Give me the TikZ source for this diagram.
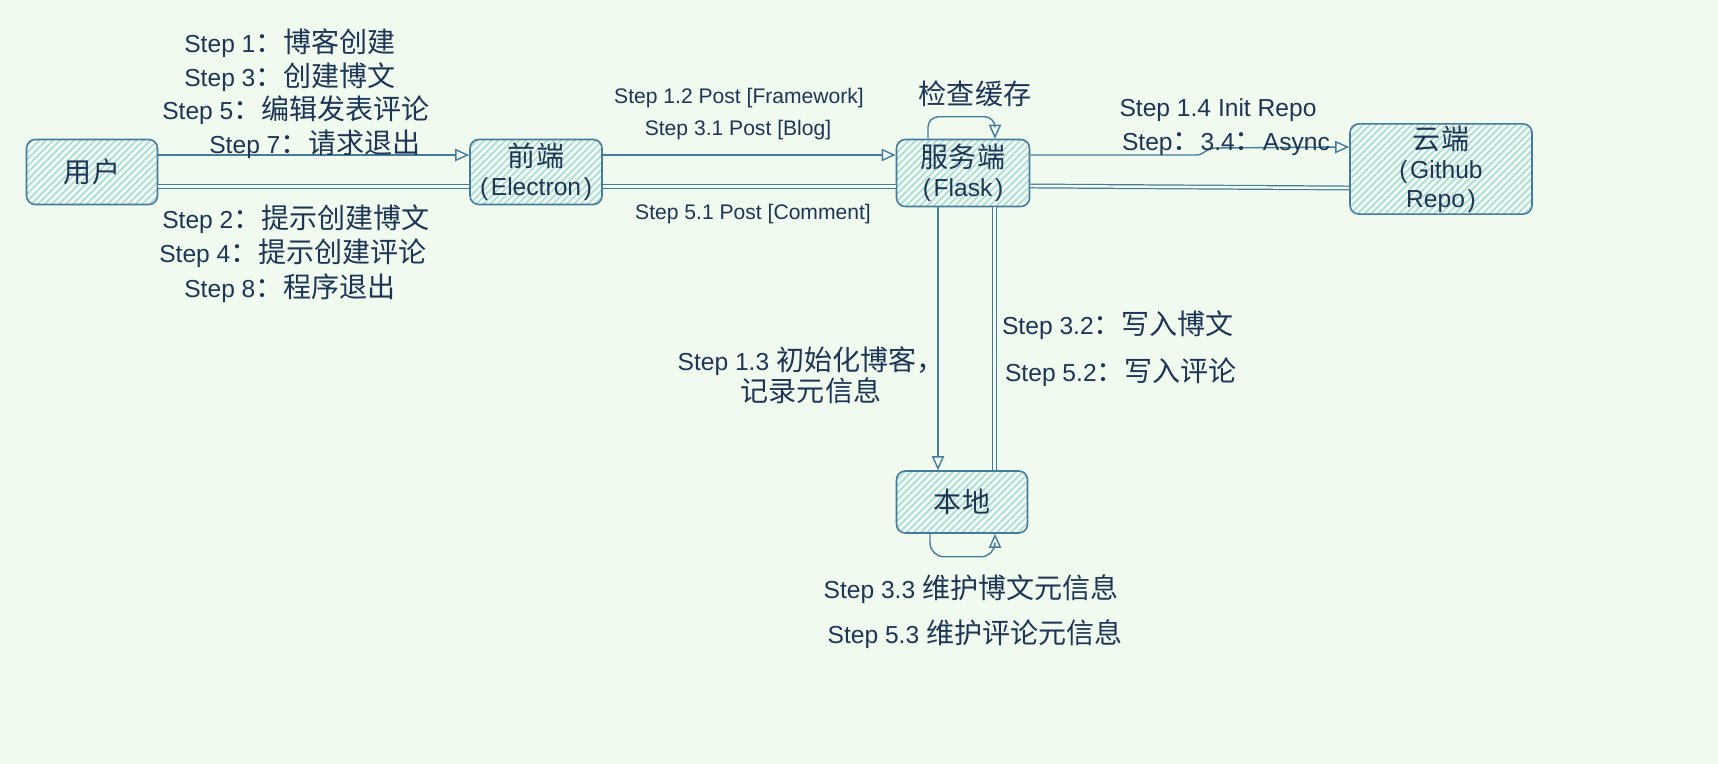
\documentclass[tikz,border=0pt]{standalone}
\usepackage{fontspec}
\setmainfont{Liberation Sans}
\newfontfamily\cjk[Scale=1.14]{Noto Sans CJK SC}
\newcommand{\zh}[1]{{\cjk #1}}
\usetikzlibrary{arrows.meta,positioning,patterns.meta}
\definecolor{bg}{HTML}{F1FAEE}
\definecolor{edge}{HTML}{457B9D}
\definecolor{hatch}{HTML}{A8DADC}
\definecolor{ink}{HTML}{1D3557}
\tikzset{font=\fontsize{14}{16.5}\selectfont}
\tikzset{every node/.append style={text=ink}}
\tikzset{box/.style={draw=edge, line width=0.9pt, rounded corners=5pt,
    pattern={Lines[angle=45,distance=2.8pt,line width=0.9pt]}, pattern color=hatch,
    align=center, inner sep=1pt}}
\tikzset{flow/.style={draw=edge, line width=0.8pt, -{Triangle[open,length=8pt,width=7pt]}}}
\tikzset{twin/.style={draw=edge, line width=0.7pt, double=bg, double distance=1.4pt}}
\tikzset{small/.style={font=\fontsize{12}{14}\selectfont}}

\begin{document}
\begin{tikzpicture}
\fill[bg] (0,0) rectangle (34.36,-15.28);
\useasboundingbox (0,0) rectangle (34.36,-15.28);

\node[box, minimum width=2.62cm, minimum height=1.3cm] (user) at (1.84,-3.44) {\zh{用户}};
\node[box, minimum width=2.64cm, minimum height=1.3cm] (front) at (10.72,-3.44) {\zh{前端}\\(\kern1.5pt Electron\kern1.5pt)};
\node[box, minimum width=2.66cm, minimum height=1.34cm] (server) at (19.26,-3.46) {\zh{服务端}\\(\kern1.5pt Flask\kern1.5pt)};
\node[box, minimum width=3.64cm, minimum height=1.64cm] (cloud) at (28.82,-3.38) {\zh{云端}\\(\kern1.5pt Github\\Repo\kern1.5pt)};
\node[box, minimum width=2.62cm, minimum height=1.24cm] (local) at (19.24,-10.04) {\zh{本地}};

\draw[flow] ([yshift=0.34cm]user.east) -- ([yshift=0.34cm]user.east -| front.west);
\draw[twin] ([yshift=-0.29cm]user.east) -- ([yshift=-0.29cm]user.east -| front.west);
\draw[flow] ([yshift=0.34cm]front.east) -- ([yshift=0.34cm]front.east -| server.west);
\draw[twin] ([yshift=-0.29cm]front.east) -- ([yshift=-0.29cm]front.east -| server.west);
\draw[flow] ([yshift=0.36cm]server.east) -- ++(3.3,0)
  .. controls +(0.2,0) and +(-0.2,0) .. ++(0.4,0.14) -- ([yshift=0.44cm]cloud.west);
\draw[twin] ([yshift=-0.26cm]server.east) -- ([yshift=-0.38cm]cloud.west);
\draw[flow, rounded corners=6pt] ([xshift=-0.7cm]server.north) -- ++(0,0.44) -| ([xshift=0.64cm]server.north);
\draw[flow] ([xshift=-0.5cm]server.south) -- ([xshift=-0.5cm]server.south |- local.north);
\draw[twin] ([xshift=0.63cm]server.south) -- ([xshift=0.63cm]server.south |- local.north);
\draw[flow, rounded corners=8pt] ([xshift=-0.64cm]local.south) -- ++(0,-0.46) -| ([xshift=0.66cm]local.south);

\node (s1) at (5.80,-0.86) {Step 1\zh{：博客创建}};
\node (s3) at (5.80,-1.54) {Step 3\zh{：创建博文}};
\node (s5) at (5.92,-2.20) {Step 5\zh{：编辑发表评论}};
\node (s7) at (6.30,-2.88) {Step 7\zh{：请求退出}};
\node (s2) at (5.92,-4.38) {Step 2\zh{：提示创建博文}};
\node (s4) at (5.86,-5.06) {Step 4\zh{：提示创建评论}};
\node (s8) at (5.80,-5.76) {Step 8\zh{：程序退出}};

\node[small] (p12) at (14.78,-1.96) {Step 1.2 Post [Framework]};
\node[small] (p31) at (14.76,-2.60) {Step 3.1 Post [Blog]};
\node[small] (p51) at (15.06,-4.28) {Step 5.1 Post [Comment]};

\node (cache) at (19.50,-1.88) {\zh{检查缓存}};
\node (r14) at (24.36,-2.20) {Step 1.4 Init Repo};
\node (r34) at (24.52,-2.88) {Step\zh{：}3.4\zh{：}Async};

\node (w32) at (22.36,-6.50) {Step 3.2\zh{：写入博文}};
\node (w52) at (22.42,-7.44) {Step 5.2\zh{：写入评论}};
\node[align=center, font=\fontsize{14}{17.6}\selectfont] (i13) at (16.22,-7.50) {Step 1.3 \zh{初始化博客，}\\\zh{记录元信息}};

\node (m33) at (19.42,-11.78) {Step 3.3 \zh{维护博文元信息}};
\node (m53) at (19.50,-12.68) {Step 5.3 \zh{维护评论元信息}};
\end{tikzpicture}
\end{document}
